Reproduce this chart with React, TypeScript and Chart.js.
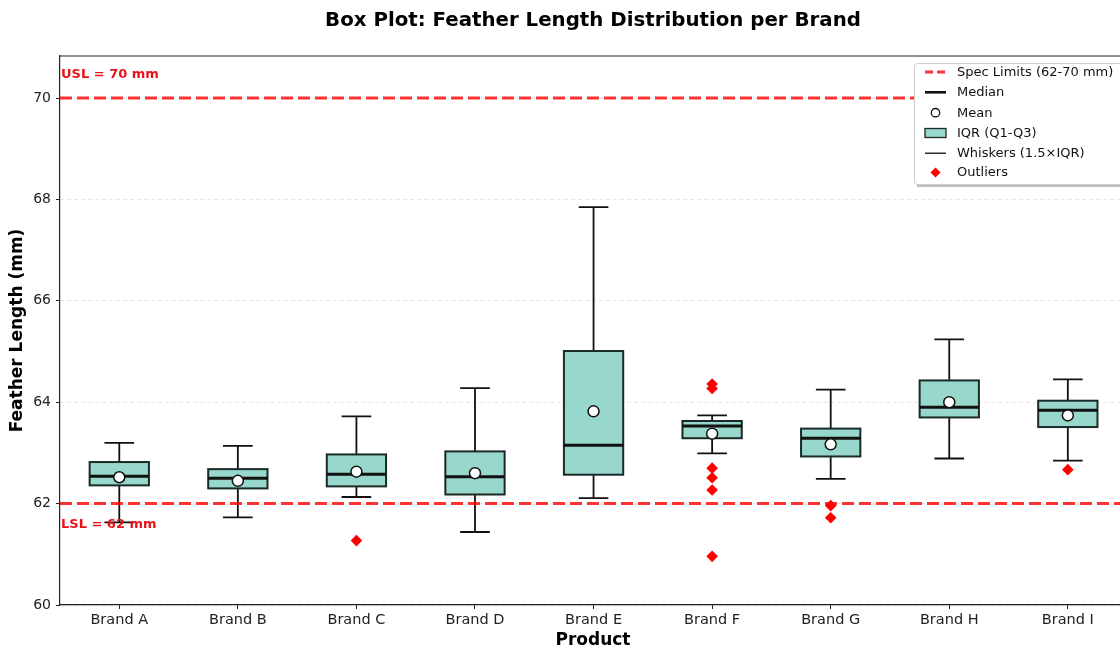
import React, { useEffect, useRef } from 'react';
import { Chart, registerables } from 'chart.js';

Chart.register(...registerables);

const brands = ['Brand A', 'Brand B', 'Brand C', 'Brand D', 'Brand E', 'Brand F', 'Brand G', 'Brand H', 'Brand I'];
const whiskerLow = [61.63, 61.73, 62.13, 61.44, 62.11, 62.99, 62.49, 62.89, 62.85];
const q1 = [62.36, 62.30, 62.34, 62.18, 62.57, 63.29, 62.93, 63.70, 63.51];
const medians = [62.54, 62.50, 62.58, 62.53, 63.15, 63.53, 63.29, 63.90, 63.84];
const q3 = [62.82, 62.68, 62.97, 63.03, 65.01, 63.63, 63.48, 64.43, 64.03];
const whiskerHigh = [63.20, 63.14, 63.72, 64.28, 67.85, 63.74, 64.25, 65.24, 64.45];
const means = [62.52, 62.45, 62.63, 62.60, 63.82, 63.38, 63.17, 64.00, 63.74];
const outlierBrand = [3, 6, 6, 6, 6, 6, 6, 7, 7, 9];
const outlierValues = [61.27, 64.36, 64.27, 62.70, 62.51, 62.27, 60.96, 61.96, 61.72, 62.67];
const LSL = 62;
const USL = 70;
const yTicks = [60, 62, 64, 66, 68, 70];

const RED = 'rgba(255,0,0,0.8)';
const BOX_FILL = 'rgba(141,211,199,0.9)';
const DARK = '#111';
const FONT = '"DejaVu Sans", sans-serif';

const boxPlugin = {
  id: 'boxes',
  beforeDatasetsDraw(chart: any) {
    const { ctx, scales } = chart;
    const x = scales.x;
    const y = scales.y;
    ctx.save();
    brands.forEach((_, i) => {
      const cx = x.getPixelForValue(i + 1);
      const hw = x.getPixelForValue(i + 1.25) - cx;
      const cw = x.getPixelForValue(i + 1.125) - cx;
      const pLo = y.getPixelForValue(whiskerLow[i]);
      const pQ1 = y.getPixelForValue(q1[i]);
      const pMed = y.getPixelForValue(medians[i]);
      const pQ3 = y.getPixelForValue(q3[i]);
      const pHi = y.getPixelForValue(whiskerHigh[i]);
      ctx.strokeStyle = DARK;
      ctx.lineWidth = 1.8;
      ctx.beginPath();
      ctx.moveTo(cx, pQ3); ctx.lineTo(cx, pHi);
      ctx.moveTo(cx, pQ1); ctx.lineTo(cx, pLo);
      ctx.moveTo(cx - cw, pHi); ctx.lineTo(cx + cw, pHi);
      ctx.moveTo(cx - cw, pLo); ctx.lineTo(cx + cw, pLo);
      ctx.stroke();
      ctx.fillStyle = BOX_FILL;
      ctx.fillRect(cx - hw, pQ3, 2 * hw, pQ1 - pQ3);
      ctx.strokeStyle = '#1a2a26';
      ctx.lineWidth = 2;
      ctx.strokeRect(cx - hw, pQ3, 2 * hw, pQ1 - pQ3);
      ctx.strokeStyle = DARK;
      ctx.lineWidth = 3;
      ctx.beginPath();
      ctx.moveTo(cx - hw, pMed); ctx.lineTo(cx + hw, pMed);
      ctx.stroke();
    });
    ctx.restore();
  },
  afterDatasetsDraw(chart: any) {
    const { ctx, scales, chartArea } = chart;
    const y = scales.y;
    ctx.save();
    ctx.fillStyle = '#e8121a';
    ctx.font = `bold 13px ${FONT}`;
    ctx.textBaseline = 'middle';
    ctx.textAlign = 'left';
    ctx.fillText(`USL = ${USL} mm`, chartArea.left + 1, y.getPixelForValue(USL) - 23);
    ctx.fillText(`LSL = ${LSL} mm`, chartArea.left + 1, y.getPixelForValue(LSL) + 21);
    ctx.restore();
  },
  afterDraw(chart: any) {
    const { ctx, chartArea } = chart;
    ctx.save();
    ctx.strokeStyle = '#222';
    ctx.lineWidth = 1.2;
    ctx.beginPath();
    ctx.moveTo(chartArea.left, chartArea.top);
    ctx.lineTo(chartArea.right + 10, chartArea.top);
    ctx.stroke();
    ctx.fillStyle = '#000';
    ctx.textAlign = 'center';
    ctx.textBaseline = 'middle';
    ctx.font = `bold 19.8px ${FONT}`;
    ctx.fillText('Box Plot: Feather Length Distribution per Brand', 593, 21);
    ctx.font = `bold 17px ${FONT}`;
    ctx.fillText('Product', 593, 641);
    ctx.save();
    ctx.translate(18, (chartArea.top + chartArea.bottom) / 2);
    ctx.rotate(-Math.PI / 2);
    ctx.fillText('Feather Length (mm)', 0, 0);
    ctx.restore();
    // legend
    const lx = 914, ly = 63, lw = 220, lh = 121;
    ctx.fillStyle = 'rgba(0,0,0,0.25)';
    ctx.fillRect(lx + 3, ly + 3, lw, lh);
    ctx.fillStyle = '#fff';
    ctx.strokeStyle = '#cfcfcf';
    ctx.lineWidth = 1;
    ctx.beginPath();
    ctx.roundRect(lx + 0.5, ly + 0.5, lw, lh, 3);
    ctx.fill();
    ctx.stroke();
    const rows = [72, 92.3, 112.7, 133, 153.2, 172.5];
    const labels = ['Spec Limits (62-70 mm)', 'Median', 'Mean', 'IQR (Q1-Q3)', 'Whiskers (1.5\u00d7IQR)', 'Outliers'];
    const hx0 = 925, hx1 = 946, hcx = 935.5;
    ctx.strokeStyle = RED;
    ctx.lineWidth = 2.8;
    ctx.setLineDash([8, 4]);
    ctx.beginPath(); ctx.moveTo(hx0, rows[0]); ctx.lineTo(hx1, rows[0]); ctx.stroke();
    ctx.setLineDash([]);
    ctx.strokeStyle = DARK;
    ctx.lineWidth = 2.6;
    ctx.beginPath(); ctx.moveTo(hx0, rows[1]); ctx.lineTo(hx1, rows[1]); ctx.stroke();
    ctx.lineWidth = 1.3;
    ctx.fillStyle = '#fff';
    ctx.beginPath(); ctx.arc(hcx, rows[2], 4.2, 0, Math.PI * 2); ctx.fill(); ctx.stroke();
    ctx.fillStyle = BOX_FILL;
    ctx.fillRect(hx0, rows[3] - 4.5, hx1 - hx0, 9);
    ctx.strokeStyle = '#1a2a26';
    ctx.strokeRect(hx0, rows[3] - 4.5, hx1 - hx0, 9);
    ctx.strokeStyle = DARK;
    ctx.lineWidth = 1.3;
    ctx.beginPath(); ctx.moveTo(hx0, rows[4]); ctx.lineTo(hx1, rows[4]); ctx.stroke();
    ctx.fillStyle = '#f00';
    ctx.beginPath();
    ctx.moveTo(hcx, rows[5] - 5); ctx.lineTo(hcx + 5, rows[5]); ctx.lineTo(hcx, rows[5] + 5); ctx.lineTo(hcx - 5, rows[5]);
    ctx.closePath(); ctx.fill();
    ctx.fillStyle = '#111';
    ctx.textAlign = 'left';
    ctx.font = `13px ${FONT}`;
    labels.forEach((t, i) => ctx.fillText(t, 957, rows[i] + 0.5));
    ctx.restore();
  },
};

export default function App() {
  const ref = useRef<HTMLCanvasElement | null>(null);
  useEffect(() => {
    if (!ref.current) return;
    const chart = new Chart(ref.current, {
      type: 'scatter',
      data: {
        datasets: [
          {
            label: 'Mean',
            data: means.map((m, i) => ({ x: i + 1, y: m })),
            pointStyle: 'circle',
            pointRadius: 5.5,
            pointBackgroundColor: '#fff',
            pointBorderColor: '#111',
            pointBorderWidth: 1.5,
          },
          {
            label: 'Outliers',
            data: outlierValues.map((v, i) => ({ x: outlierBrand[i], y: v })),
            pointStyle: 'rectRot',
            pointRadius: 5.8,
            pointBackgroundColor: '#ff0000',
            pointBorderColor: '#ff0000',
            pointBorderWidth: 0,
          },
          {
            type: 'line',
            label: 'USL',
            data: [{ x: 0.5, y: USL }, { x: 9.5, y: USL }],
            borderColor: RED,
            borderWidth: 3,
            borderDash: [12, 5],
            pointRadius: 0,
          } as any,
          {
            type: 'line',
            label: 'LSL',
            data: [{ x: 0.5, y: LSL }, { x: 9.5, y: LSL }],
            borderColor: RED,
            borderWidth: 3,
            borderDash: [12, 5],
            pointRadius: 0,
          } as any,
        ],
      },
      options: {
        animation: false,
        responsive: false,
        devicePixelRatio: 1,
        layout: { autoPadding: false, padding: { top: 56, right: 0, bottom: 0, left: 0 } },
        plugins: { legend: { display: false }, tooltip: { enabled: false }, title: { display: false } },
        scales: {
          x: {
            type: 'linear',
            min: 0.5,
            max: 9.44,
            afterBuildTicks: (s: any) => { s.ticks = brands.map((_, i) => ({ value: i + 1 })); },
            afterFit: (s: any) => { s.height = 44; s.paddingLeft = 0; s.paddingRight = 0; },
            ticks: {
              callback: (v: any) => brands[Math.round(Number(v)) - 1] ?? '',
              color: '#222',
              font: { family: FONT, size: 14.5 },
              padding: 3,
              maxRotation: 0,
              autoSkip: false,
            },
            grid: { drawOnChartArea: false, drawTicks: true, tickLength: 4, tickColor: '#222', tickWidth: 1 },
            border: { display: true, color: '#222', width: 1.2 },
          },
          y: {
            type: 'linear',
            min: 60,
            max: 70.83,
            afterBuildTicks: (s: any) => { s.ticks = yTicks.map((v) => ({ value: v })); },
            afterFit: (s: any) => { s.width = 60; s.paddingTop = 0; s.paddingBottom = 0; },
            ticks: {
              color: '#222',
              font: { family: FONT, size: 14 },
              padding: 5,
            },
            grid: {
              color: 'rgba(0,0,0,0.13)',
              lineWidth: 0.8,
              drawTicks: true,
              tickLength: 4,
              tickColor: '#222',
              tickWidth: 1,
            },
            border: { display: true, color: '#222', width: 1.2, dash: [4, 3] },
          },
        },
      },
      plugins: [boxPlugin],
    } as any);
    return () => chart.destroy();
  }, []);
  return (
    <div style={{ position: 'fixed', left: 0, top: 0, width: 1120, height: 649, background: '#fff' }}>
      <canvas ref={ref} width={1120} height={649} />
    </div>
  );
}
